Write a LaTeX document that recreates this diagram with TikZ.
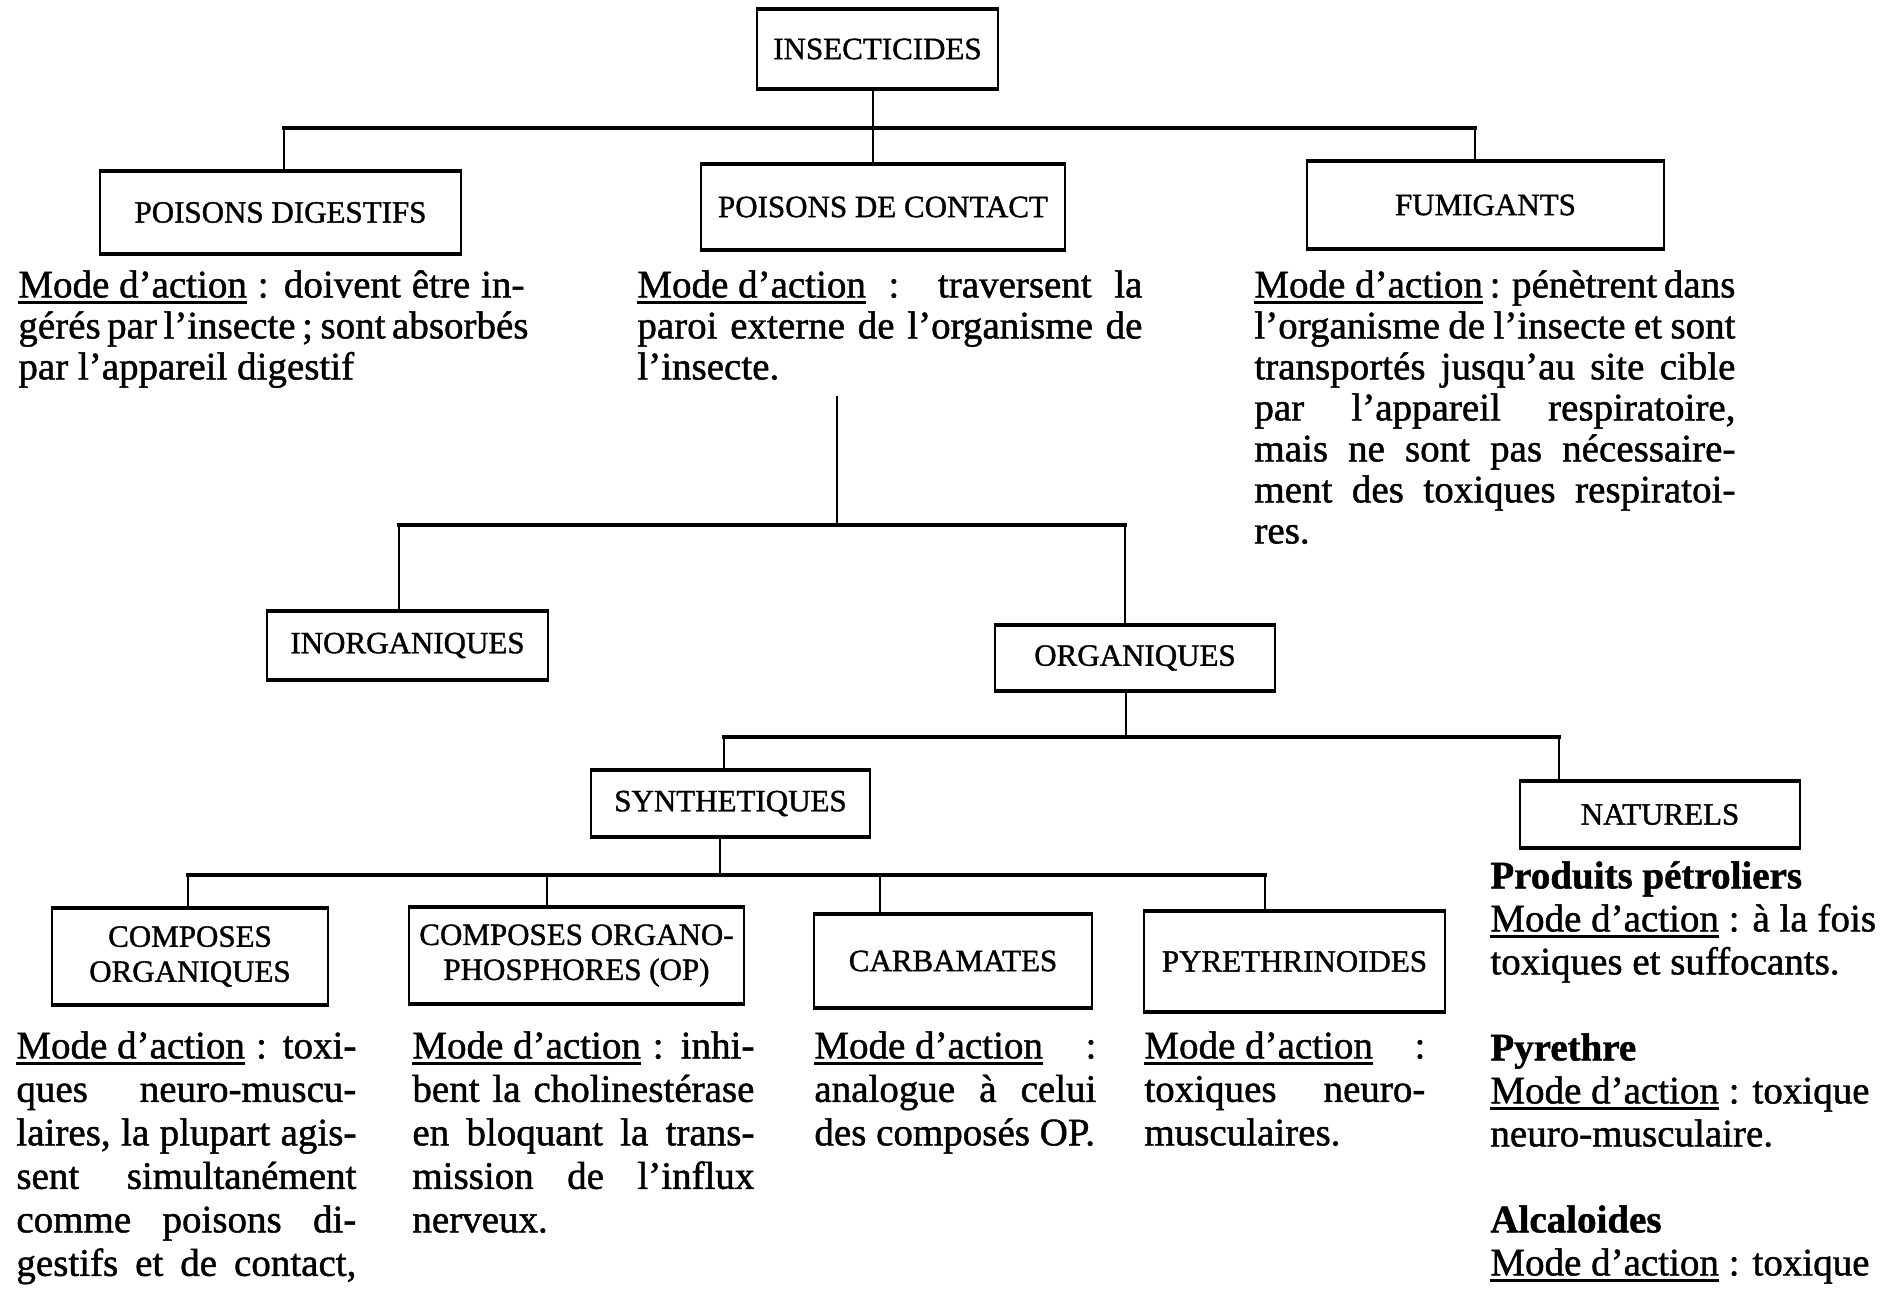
\documentclass[tikz,border=0pt]{standalone}
\usepackage{fontspec}
\setmainfont{Liberation Serif}[FakeBold=1.2]
\usetikzlibrary{calc}
\newcommand\mda{\leavevmode\setbox0=\hbox{Mode d'action}\rlap{\rule[-3.2pt]{\wd0}{1.5pt}}\box0}
\newcommand\jl[2]{\makebox[#1][s]{#2}}
\begin{document}
\begin{tikzpicture}[x=0.5pt,y=-0.5pt,
  box/.style={draw, line width=1pt, inner sep=2pt, align=center, font=\fontsize{15.5}{17.5}\selectfont},
  txt/.style={anchor=north west, inner sep=0pt, align=left},
  bus/.style={line width=1.7pt, line cap=rect},
  stem/.style={line width=0.7pt}]
\fill[white] (0,0) rectangle (1885,1291);
\useasboundingbox (0,0) rectangle (1885,1291);

% boxes
\node[box, minimum width=241*.5pt, minimum height=78*.5pt] (ins) at (877.5,49) {INSECTICIDES};
\node[box, minimum width=361*.5pt, minimum height=81*.5pt] (pd) at (280.5,212.5) {POISONS DIGESTIFS};
\node[box, minimum width=364*.5pt, minimum height=84*.5pt] (pdc) at (883,207) {POISONS DE CONTACT};
\node[box, minimum width=357*.5pt, minimum height=86*.5pt] (fum) at (1485.5,205) {FUMIGANTS};
\node[box, minimum width=281*.5pt, minimum height=67*.5pt] (inorg) at (407.5,645.5) {INORGANIQUES};
\node[box, minimum width=280*.5pt, minimum height=64*.5pt] (org) at (1135,658) {ORGANIQUES};
\node[box, minimum width=279*.5pt, minimum height=65*.5pt] (syn) at (730.5,803.5) {SYNTHETIQUES};
\node[box, minimum width=280*.5pt, minimum height=65*.5pt] (nat) at (1660,814.5) {NATURELS};
\node[box, minimum width=276*.5pt, minimum height=95*.5pt] (co) at (190,956.5) {COMPOSES\\ORGANIQUES};
\node[box, minimum width=335*.5pt, minimum height=95*.5pt] (op) at (576.5,955.5) {COMPOSES ORGANO-\\PHOSPHORES (OP)};
\node[box, minimum width=278*.5pt, minimum height=92*.5pt] (carb) at (953,961) {CARBAMATES};
\node[box, minimum width=301*.5pt, minimum height=99*.5pt] (pyr) at (1294.5,961.5) {PYRETHRINOIDES};

\foreach \n in {ins,pd,pdc,fum,inorg,org,syn,nat,co,op,carb,pyr}
  \draw[line width=1.8pt] (\n.north west) -- (\n.north east) (\n.south west) -- (\n.south east);

% text blocks, first row
\begin{scope}[every node/.append style={font=\fontsize{19.5}{20.5}\selectfont}]
\node[txt] (tpd) at (18,268.3) {\strut\jl{253pt}{\mda{} : doivent être in-}\\
  \jl{253pt}{gérés par l'insecte ; sont absorbés}\\
  par l'appareil digestif};
\node[txt] (tpdc) at (637,268.3) {\strut\jl{252.5pt}{\mda{} : traversent la}\\
  \jl{252.5pt}{paroi externe de l'organisme de}\\
  l'insecte.};
\node[txt] (tfum) at (1254,268.3) {\strut\jl{240.5pt}{\mda{} : pénètrent dans}\\
  \jl{240.5pt}{l'organisme de l'insecte et sont}\\
  \jl{240.5pt}{transportés jusqu'au site cible}\\
  \jl{240.5pt}{par l'appareil respiratoire,}\\
  \jl{240.5pt}{mais ne sont pas nécessaire-}\\
  \jl{240.5pt}{ment des toxiques respiratoi-}\\
  res.};
\end{scope}

% text blocks, last row
\begin{scope}[every node/.append style={font=\fontsize{19.5}{21.75}\selectfont}]
\node[txt] (tco) at (16,1027.5) {\strut\jl{170pt}{\mda{} : toxi-}\\
  \jl{170pt}{ques neuro-muscu-}\\
  \jl{170pt}{laires, la plupart agis-}\\
  \jl{170pt}{sent simultanément}\\
  \jl{170pt}{comme poisons di-}\\
  \jl{170pt}{gestifs et de contact,}};
\node[txt] (top) at (412,1027.5) {\strut\jl{171pt}{\mda{} : inhi-}\\
  \jl{171pt}{bent la cholinestérase}\\
  \jl{171pt}{en bloquant la trans-}\\
  \jl{171pt}{mission de l'influx}\\
  nerveux.};
\node[txt] (tcarb) at (814,1027.5) {\strut\jl{141pt}{\mda{} :}\\
  \jl{141pt}{analogue à celui}\\
  des composés OP.};
\node[txt] (tpyr) at (1144,1027.5) {\strut\jl{140.5pt}{\mda{} :}\\
  \jl{140.5pt}{toxiques neuro-}\\
  musculaires.};
\end{scope}

\node[txt, font=\fontsize{19.5}{21.5}\selectfont] (tnat) at (1490,857.9) {\strut\textbf{Produits pétroliers}\\
  \mda{} : à la fois\\
  toxiques et suffocants.\\
  \strut\\
  \textbf{Pyrethre}\\
  \mda{} : toxique\\
  neuro-musculaire.\\
  \strut\\
  \textbf{Alcaloides}\\
  \mda{} : toxique};

% connector coordinates
\coordinate (b1) at (0,128);
\coordinate (b2) at (0,525);
\coordinate (b3) at (0,737);
\coordinate (b4) at (0,875);
\coordinate (pdcstem) at (837,396);
\coordinate (dIns) at ($(ins.south west)+(117,0)$);
\coordinate (dPd) at ($(pd.north west)+(185,0)$);
\coordinate (dFum) at ($(fum.north west)+(169,0)$);
\coordinate (dInorg) at ($(inorg.north west)+(133,0)$);
\coordinate (dOrg) at ($(org.north west)+(131,0)$);
\coordinate (uOrg) at ($(org.south west)+(132,0)$);
\coordinate (dSyn) at ($(syn.north west)+(134,0)$);
\coordinate (dNat) at ($(nat.north west)+(40,0)$);
\coordinate (uSyn) at ($(syn.south west)+(130,0)$);
\coordinate (dCo) at ($(co.north west)+(137,0)$);
\coordinate (dOp) at ($(op.north west)+(139,0)$);
\coordinate (dCarb) at ($(carb.north west)+(67,0)$);
\coordinate (dPyr) at ($(pyr.north west)+(122,0)$);

% connectors
\draw[stem] (dIns) -- (dIns |- pdc.north);
\draw[stem] (dPd) -- (dPd |- b1);
\draw[stem] (dFum) -- (dFum |- b1);
\draw[bus] (dPd |- b1) -- (dFum |- b1);

\draw[stem] (pdcstem) -- (pdcstem |- b2);
\draw[stem] (dInorg) -- (dInorg |- b2);
\draw[stem] (dOrg) -- (dOrg |- b2);
\draw[bus] (dInorg |- b2) -- (dOrg |- b2);

\draw[stem] (uOrg) -- (uOrg |- b3);
\draw[stem] (dSyn) -- (dSyn |- b3);
\draw[stem] (dNat) -- (dNat |- b3);
\draw[bus] (dSyn |- b3) -- (dNat |- b3);

\draw[stem] (uSyn) -- (uSyn |- b4);
\foreach \d in {dCo,dOp,dCarb,dPyr}
  \draw[stem] (\d) -- (\d |- b4);
\draw[bus] (dCo |- b4) -- (dPyr |- b4);
\end{tikzpicture}
\end{document}
